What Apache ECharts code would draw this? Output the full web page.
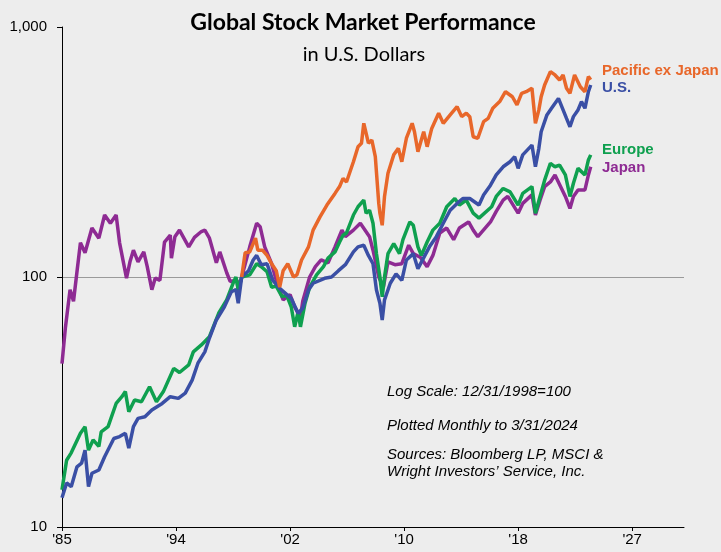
<!DOCTYPE html>
<html>
<head>
<meta charset="utf-8">
<script src="https://cdn.jsdelivr.net/npm/echarts@6/dist/echarts.min.js"></script>
<style>
  html, body { margin: 0; padding: 0; background: #ededed; }
  #main { width: 721px; height: 552px; }
</style>
</head>
<body>
<div id="main"></div>
<script>
// 起点 1985-12，月度，1998-12-31 = 100
const startYear = 1985;
const startMonth = 12;

// x 轴标签每 99 个月一格
const xTickStep = 99;
const xMaxMonths = 540;
const yTicks = [10, 100, 1000];

const japan = [
  ["1985-12", 45], ["1986-03", 63], ["1986-07", 89], ["1986-10", 80], ["1987-01", 105],
  ["1987-04", 137], ["1987-08", 125], ["1988-02", 157], ["1988-08", 143], ["1989-01", 177],
  ["1989-06", 164], ["1989-11", 177], ["1990-02", 137], ["1990-08", 99], ["1990-11", 115],
  ["1991-02", 128], ["1991-06", 115], ["1991-11", 126], ["1992-02", 110], ["1992-06", 89],
  ["1992-09", 99], ["1993-01", 97], ["1993-05", 138], ["1993-10", 147], ["1993-11", 119],
  ["1994-02", 145], ["1994-06", 154], ["1995-02", 132], ["1995-07", 144], ["1996-01", 152],
  ["1996-04", 154], ["1996-08", 143], ["1997-02", 114], ["1997-05", 126], ["1997-11", 104],
  ["1998-02", 96], ["1998-08", 97], ["1998-09", 88], ["1998-12", 100], ["1999-07", 132],
  ["2000-01", 164], ["2000-04", 159], ["2000-08", 132], ["2001-02", 113], ["2001-06", 97],
  ["2001-12", 81], ["2002-06", 85], ["2002-10", 76], ["2003-03", 69], ["2003-05", 80],
  ["2003-11", 100], ["2004-04", 110], ["2004-09", 117], ["2005-03", 114], ["2005-09", 132],
  ["2006-03", 154], ["2006-06", 145], ["2007-01", 154], ["2007-07", 164], ["2008-03", 145],
  ["2008-06", 128], ["2008-11", 100], ["2009-03", 91], ["2009-07", 115], ["2010-01", 112],
  ["2010-07", 113], ["2011-01", 134], ["2011-05", 124], ["2011-11", 120], ["2012-05", 110],
  ["2012-10", 122], ["2013-04", 150], ["2013-10", 157], ["2014-04", 141], ["2014-09", 157],
  ["2015-05", 166], ["2015-09", 154], ["2016-01", 145], ["2016-12", 166], ["2017-05", 183],
  ["2017-11", 203], ["2018-03", 210], ["2018-12", 180], ["2019-04", 197], ["2019-12", 213],
  ["2020-03", 177], ["2020-07", 203], ["2020-11", 230], ["2021-04", 240], ["2021-08", 256],
  ["2022-05", 210], ["2022-09", 188], ["2022-12", 210], ["2023-04", 223], ["2023-10", 223],
  ["2024-01", 256], ["2024-03", 276]
];

const europe = [
  ["1985-12", 14.1], ["1986-04", 18.5], ["1986-08", 19.8], ["1987-04", 23.7], ["1987-08", 25.2],
  ["1987-11", 20.3], ["1988-03", 22.3], ["1988-08", 21], ["1988-10", 24], ["1989-04", 25.2],
  ["1989-11", 31.2], ["1990-04", 33.2], ["1990-07", 34.8], ["1990-10", 28.9], ["1991-03", 32.2],
  ["1991-09", 31.7], ["1992-04", 36.4], ["1992-10", 31.7], ["1993-04", 34.8], ["1994-01", 43.1],
  ["1994-06", 41.5], ["1995-02", 44.5], ["1995-06", 50.2], ["1996-01", 53.5], ["1996-08", 57.7],
  ["1997-04", 71.6], ["1997-11", 81], ["1998-05", 95.7], ["1998-07", 100], ["1998-09", 88.7],
  ["1998-12", 100], ["1999-07", 102], ["2000-01", 113], ["2000-05", 110], ["2000-10", 105],
  ["2001-02", 91], ["2001-06", 92], ["2001-11", 83.4], ["2002-03", 84.7], ["2002-07", 76],
  ["2002-10", 63.2], ["2003-01", 72.6], ["2003-03", 63.2], ["2003-07", 78.5], ["2003-11", 91],
  ["2004-05", 102], ["2004-11", 110], ["2005-03", 119], ["2005-09", 126], ["2006-01", 138],
  ["2006-04", 147], ["2006-07", 150], ["2007-01", 177], ["2007-05", 191], ["2007-10", 203],
  ["2007-12", 180], ["2008-03", 185], ["2008-06", 164], ["2008-09", 124], ["2008-12", 100],
  ["2009-02", 83.4], ["2009-04", 100], ["2009-07", 124], ["2009-12", 136], ["2010-05", 124],
  ["2010-08", 141], ["2011-02", 166], ["2011-05", 161], ["2011-09", 132], ["2011-12", 122],
  ["2012-05", 138], ["2012-10", 154], ["2013-04", 164], ["2013-10", 191], ["2014-05", 206],
  ["2014-09", 194], ["2015-03", 203], ["2015-09", 180], ["2016-02", 172], ["2017-01", 191],
  ["2017-05", 210], ["2017-11", 226], ["2018-05", 219], ["2018-12", 194], ["2019-04", 216],
  ["2019-12", 230], ["2020-03", 180], ["2020-07", 210], ["2020-11", 244], ["2021-04", 285],
  ["2021-08", 276], ["2021-12", 280], ["2022-05", 256], ["2022-09", 210], ["2022-12", 237],
  ["2023-04", 272], ["2023-10", 256], ["2024-01", 294], ["2024-03", 308]
];

const us = [
  ["1985-12", 13.1], ["1986-04", 15], ["1986-08", 14.5], ["1987-01", 17.4], ["1987-05", 18],
  ["1987-08", 20.3], ["1987-11", 14.5], ["1988-02", 16.4], ["1988-08", 16.9], ["1989-01", 19.1],
  ["1989-09", 22.6], ["1990-02", 23], ["1990-07", 23.7], ["1990-10", 20.7], ["1991-02", 25.2],
  ["1991-06", 27.2], ["1991-12", 27.6], ["1992-06", 29.4], ["1993-03", 31.2], ["1993-10", 33.2],
  ["1994-05", 32.7], ["1994-11", 34.3], ["1995-05", 38.7], ["1995-10", 45.2], ["1996-04", 50.2],
  ["1996-08", 57], ["1997-02", 67.3], ["1997-09", 76], ["1998-03", 87.3], ["1998-07", 89],
  ["1998-09", 78.5], ["1998-12", 100], ["1999-06", 106], ["1999-10", 117], ["2000-01", 122],
  ["2000-05", 112], ["2000-10", 113], ["2001-03", 97], ["2001-09", 90], ["2002-02", 86],
  ["2002-07", 82], ["2003-01", 71.6], ["2003-05", 75], ["2003-10", 88.7], ["2004-02", 94.4],
  ["2004-12", 98.8], ["2005-06", 100], ["2005-12", 106], ["2006-06", 112], ["2007-01", 126],
  ["2007-05", 132], ["2007-10", 134], ["2008-02", 122], ["2008-06", 113], ["2008-09", 88.7],
  ["2008-12", 78.5], ["2009-02", 67.3], ["2009-04", 81], ["2009-09", 94.4], ["2010-02", 103],
  ["2010-07", 97], ["2010-11", 117], ["2011-05", 124], ["2011-09", 108], ["2012-07", 132],
  ["2013-01", 145], ["2013-07", 164], ["2014-01", 185], ["2014-07", 197], ["2014-12", 206],
  ["2015-06", 206], ["2016-02", 194], ["2016-06", 213], ["2016-12", 233], ["2017-05", 256],
  ["2017-11", 276], ["2018-05", 289], ["2018-09", 303], ["2018-12", 272], ["2019-04", 308],
  ["2019-12", 337], ["2020-03", 276], ["2020-06", 327], ["2020-08", 381], ["2021-01", 445],
  ["2021-05", 473], ["2021-11", 518], ["2022-06", 431], ["2022-09", 399], ["2022-12", 438],
  ["2023-04", 466], ["2023-07", 503], ["2023-10", 473], ["2024-01", 551], ["2024-03", 586]
];

const pacific = [
  ["1998-12", 100], ["1999-03", 125], ["1999-07", 126], ["1999-12", 143], ["2000-02", 128],
  ["2000-06", 128], ["2000-10", 122], ["2001-02", 113], ["2001-06", 106], ["2001-09", 91],
  ["2001-12", 106], ["2002-04", 113], ["2002-09", 100], ["2002-12", 102], ["2003-04", 117],
  ["2003-10", 132], ["2004-02", 154], ["2004-08", 174], ["2005-02", 194], ["2005-09", 216],
  ["2006-01", 230], ["2006-04", 248], ["2006-07", 240], ["2007-01", 289], ["2007-05", 332],
  ["2007-08", 343], ["2007-10", 412], ["2007-12", 376], ["2008-02", 343], ["2008-05", 353],
  ["2008-08", 303], ["2008-11", 197], ["2008-12", 180], ["2009-02", 161], ["2009-04", 210],
  ["2009-07", 260], ["2009-12", 308], ["2010-04", 327], ["2010-07", 289], ["2010-11", 359],
  ["2011-04", 412], ["2011-06", 381], ["2011-09", 317], ["2012-02", 381], ["2012-05", 332],
  ["2012-09", 393], ["2013-03", 452], ["2013-07", 412], ["2014-01", 445], ["2014-07", 480],
  ["2014-11", 438], ["2015-03", 452], ["2015-06", 438], ["2015-09", 364], ["2016-01", 359],
  ["2016-06", 418], ["2016-10", 431], ["2017-02", 473], ["2017-08", 503], ["2018-01", 551],
  ["2018-07", 526], ["2018-11", 488], ["2019-03", 543], ["2019-07", 551], ["2019-12", 569],
  ["2020-03", 412], ["2020-06", 466], ["2020-08", 526], ["2020-11", 586], ["2021-04", 663],
  ["2021-08", 643], ["2021-12", 614], ["2022-03", 643], ["2022-06", 569], ["2022-09", 543],
  ["2023-01", 643], ["2023-06", 577], ["2023-10", 551], ["2024-01", 633], ["2024-03", 615]
];

const seriesNames = ["Japan", "Europe", "U.S.", "Pacific ex Japan"];
const seriesColors = ["#8e2b93", "#0fa04f", "#3a4fa5", "#e8672a"];

// "YYYY-MM" -> 月份序号
function toIndex(s) {
  const p = s.split("-");
  return (parseInt(p[0]) - startYear) * 12 + parseInt(p[1]) - startMonth;
}
function toPoints(list) {
  return list.map(d => [toIndex(d[0]), d[1]]);
}

const chart = echarts.init(document.getElementById("main"));

const lineSeries = [japan, europe, us, pacific].map((list, i) => ({
  name: seriesNames[i],
  type: "line",
  data: toPoints(list),
  showSymbol: false,
  symbol: "none",
  lineStyle: { width: 3.5, color: seriesColors[i] },
  itemStyle: { color: seriesColors[i] },
  animation: false
}));

const labelFont = "'Liberation Sans'";

const option = {
  backgroundColor: "#ededed",
  title: [
    {
      text: "Global Stock Market Performance",
      left: 358,
      top: 6,
      textAlign: "center",
      textStyle: { fontFamily: "Lato", fontWeight: "bold", fontSize: 23, color: "#000" }
    },
    {
      text: "in U.S. Dollars",
      left: 359,
      top: 40,
      textAlign: "center",
      textStyle: { fontFamily: "Lato", fontWeight: "normal", fontSize: 20, color: "#000" }
    }
  ],
  grid: { left: 62, right: 37, top: 27, bottom: 25 },
  xAxis: {
    type: "value",
    min: 0,
    max: xMaxMonths,
    interval: xTickStep,
    axisLine: { lineStyle: { color: "#000", width: 1 } },
    axisTick: { show: true, length: 4, lineStyle: { color: "#000" } },
    axisLabel: {
      color: "#000",
      fontFamily: "Liberation Sans",
      fontSize: 15,
      margin: 5,
      showMaxLabel: false,
      formatter: v => {
        const y = startYear + Math.floor((startMonth - 1 + v) / 12);
        return "'" + String(y).slice(2);
      }
    },
    splitLine: { show: false }
  },
  yAxis: {
    type: "log",
    logBase: 10,
    min: yTicks[0],
    max: yTicks[yTicks.length - 1],
    axisLine: { show: true, lineStyle: { color: "#000", width: 1 } },
    axisTick: { show: true, length: 5, lineStyle: { color: "#000" } },
    axisLabel: {
      color: "#000",
      fontFamily: "Liberation Sans",
      fontSize: 15,
      margin: 15,
      formatter: v => v.toLocaleString("en-US")
    },
    splitLine: {
      show: true,
      lineStyle: { color: ["transparent", "#9a9a9a", "transparent"], width: 1 }
    }
  },
  graphic: [
    { type: "text", left: 602, top: 63, style: { text: "Pacific ex Japan", fill: seriesColors[3], font: "bold 15px " + labelFont } },
    { type: "text", left: 602, top: 80, style: { text: "U.S.", fill: seriesColors[2], font: "bold 15px " + labelFont } },
    { type: "text", left: 602, top: 142, style: { text: "Europe", fill: seriesColors[1], font: "bold 15px " + labelFont } },
    { type: "text", left: 602, top: 160, style: { text: "Japan", fill: seriesColors[0], font: "bold 15px " + labelFont } },
    { type: "text", left: 387, top: 384, style: { text: "Log Scale: 12/31/1998=100", fill: "#000", font: "italic 15px " + labelFont } },
    { type: "text", left: 387, top: 418, style: { text: "Plotted Monthly to 3/31/2024", fill: "#000", font: "italic 15px " + labelFont } },
    { type: "text", left: 387, top: 446, style: { text: "Sources: Bloomberg LP, MSCI &\nWright Investors’ Service, Inc.", fill: "#000", font: "italic 15px " + labelFont, lineHeight: 17 } }
  ],
  series: lineSeries
};

chart.setOption(option, true);
</script>
</body>
</html>
